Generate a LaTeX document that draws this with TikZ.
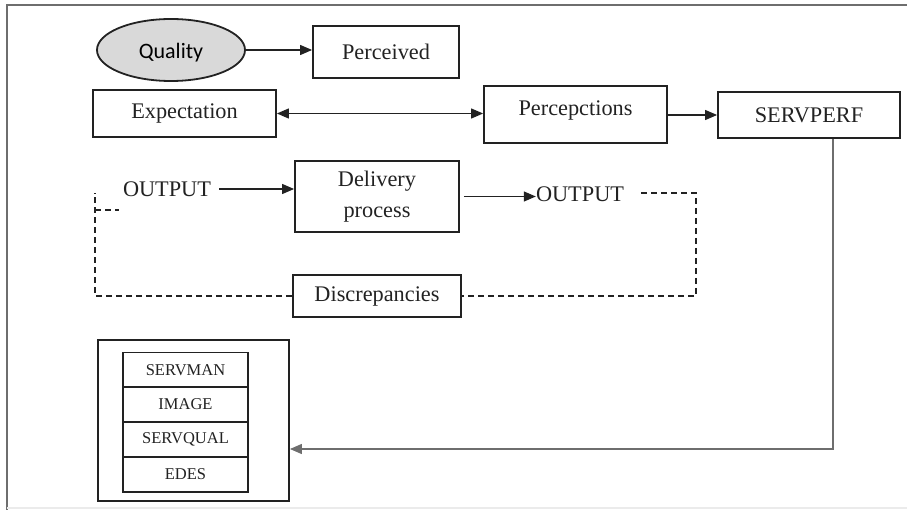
\documentclass[tikz,border=0pt]{standalone}
\usepackage{fontspec}
\setmainfont{Liberation Serif}
\newfontfamily\qfont{Carlito}
\usetikzlibrary{arrows.meta,shapes.geometric}
\definecolor{ink}{HTML}{222222}
\definecolor{greyline}{HTML}{6E6E6E}
\definecolor{ellfill}{HTML}{D9D9D9}
\begin{document}
\begin{tikzpicture}[x=1pt,y=-1pt,
  box/.style={draw=ink,line width=1.8pt,rectangle,inner sep=0pt,font=\fontsize{22.3}{31}\selectfont,text=ink},
  smallbox/.style={draw=ink,line width=1.8pt,rectangle,inner sep=0pt,minimum width=125pt,minimum height=35pt,font=\fontsize{16.5}{20}\selectfont,text=ink},
  plain/.style={inner sep=0pt,font=\fontsize{22.3}{26}\selectfont,text=ink},
  conn/.style={draw=ink,line width=1.2pt,-{Triangle[length=12pt,width=10pt]}},
  dconn/.style={draw=ink,line width=1.2pt,{Triangle[length=12pt,width=10pt]}-{Triangle[length=12pt,width=10pt]}},
  dashline/.style={draw=ink,line width=1.6pt,dash pattern=on 6pt off 4pt}
]
\useasboundingbox (0,0) rectangle (907,510);
% frame
\draw[draw=greyline,line width=2pt] (907,5) -- (7,5) -- (7,510);
\draw[draw=black!8,line width=1.5pt] (7,508) -- (907,508);

% nodes
\node[ellipse,draw=ink,line width=1.8pt,fill=ellfill,minimum width=148pt,minimum height=62pt,inner sep=0pt,text height=21pt,text depth=4pt,font=\qfont\fontsize{22}{26}\selectfont] (quality) at (171,50) {Quality};
\node[box,minimum width=146pt,minimum height=52pt] (perceived) at (386,52) {Perceived};
\node[box,minimum width=183pt,minimum height=47pt] (expect) at (184.5,113.5) {Expectation};
\node[box,minimum width=183pt,minimum height=57pt,text depth=12pt] (percep) at (575.5,114.5) {Percepctions};
\node[box,minimum width=182pt,minimum height=46pt] (servperf) at (809,115) {SERVPERF};

\node[plain] (out1) at (167,189) {OUTPUT};
\node[box,minimum width=164pt,minimum height=71pt,align=center] (deliv) at (377,196.5) {Delivery\\process};
\node[plain] (out2) at (580,194) {OUTPUT};
\node[box,minimum width=168pt,minimum height=42pt] (discr) at (377,296) {Discrepancies};

\node[draw=ink,line width=1.8pt,minimum width=191pt,minimum height=161pt,inner sep=0pt] (outer) at (193.5,420.5) {};
\node[smallbox] (s1) at (185.5,370) {SERVMAN};
\node[smallbox] (s2) at (185.5,404.5) {IMAGE};
\node[smallbox] (s3) at (185.5,439.5) {SERVQUAL};
\node[smallbox] (s4) at (185.5,474.5) {EDES};

% connectors
\draw[conn] (quality.east) -- (perceived.west |- quality.east);
\draw[dconn] (expect.east) -- (percep.west |- expect.east);
\draw[conn] (percep.east |- servperf.west) -- (servperf.west);
\coordinate (c1) at (833,449);
\draw[conn,draw=greyline] (servperf.south -| c1) -- (c1) -- (c1 -| outer.east);
\draw[conn] (out1.east) ++(8,0) -- (deliv.west |- out1.east);
\draw[conn] (deliv.east) ++(4,0) -- (deliv.east -| out2.west);

% dashed feedback loop
\coordinate (d1) at (641,193);
\coordinate (d2) at (696,193);
\coordinate (d3) at (95,296);
\coordinate (d4) at (95,193);
\coordinate (d5) at (95,210);
\coordinate (d6) at (119,210);
\draw[dashline] (d1) -- (d2) -- (d2 |- discr.east) -- (discr.east);
\draw[dashline] (discr.west) -- (d3) -- (d4);
\draw[dashline] (d5) -- (d6);
\end{tikzpicture}
\end{document}
